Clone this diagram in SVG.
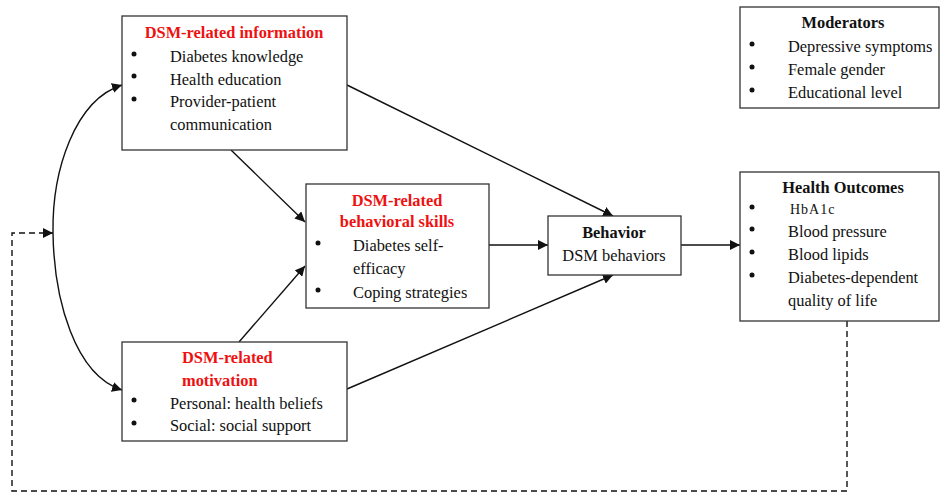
<svg xmlns="http://www.w3.org/2000/svg" width="940" height="498" viewBox="0 0 940 498">
<style>
.box{fill:#fff;stroke:#333;stroke-width:1.3}
.t{font-family:"Liberation Serif","Times New Roman",serif;font-size:16.4px;fill:#111}
.b{font-weight:bold}
.r{fill:#ee1111;font-weight:bold}
.c{text-anchor:middle}
.ln{fill:none;stroke:#111;stroke-width:1.4}
.ds{fill:none;stroke:#111;stroke-width:1.4;stroke-dasharray:6,4}
</style>
<defs>
<marker id="ah" viewBox="0 0 10 10" refX="10" refY="5" markerWidth="10" markerHeight="10" markerUnits="userSpaceOnUse" orient="auto">
<path d="M0,0 L10,5 L0,10 z" fill="#111"/>
</marker>
</defs>
<g id="connectors">
<path class="ln" d="M347,85 L613,216" marker-end="url(#ah)"/>
<path class="ln" d="M231,150 L305,222" marker-end="url(#ah)"/>
<path class="ln" d="M239,342 L305,266" marker-end="url(#ah)"/>
<path class="ln" d="M489,245 L548,245" marker-end="url(#ah)"/>
<path class="ln" d="M347,389 L613,275" marker-end="url(#ah)"/>
<path class="ln" d="M681,245 L740,245" marker-end="url(#ah)"/>
<path class="ln" d="M53,233 C52,170 75,100 122,85" marker-end="url(#ah)"/>
<path class="ln" d="M53,233 C54,300 75,375 122,390" marker-end="url(#ah)"/>
<path class="ds" d="M847,321 L847,491 L12,491 L12,233 L53,233" marker-end="url(#ah)"/>
</g>
<g id="info">
<rect class="box" x="122" y="16" width="225" height="134"/>
<text class="t r c" x="234" y="38">DSM-related information</text>
<circle cx="134" cy="54" r="2.5" fill="#111"/>
<circle cx="134" cy="76" r="2.5" fill="#111"/>
<circle cx="134" cy="99" r="2.5" fill="#111"/>
<text class="t" x="170" y="62">Diabetes knowledge</text>
<text class="t" x="170" y="85">Health education</text>
<text class="t" x="170" y="107">Provider-patient</text>
<text class="t" x="170" y="130">communication</text>
</g>
<g id="skills">
<rect class="box" x="306" y="184" width="183" height="124"/>
<text class="t r c" x="397" y="206">DSM-related</text>
<text class="t r c" x="397" y="227">behavioral skills</text>
<circle cx="318" cy="243" r="2.5" fill="#111"/>
<circle cx="318" cy="290" r="2.5" fill="#111"/>
<text class="t" x="353" y="251">Diabetes self-</text>
<text class="t" x="353" y="274">efficacy</text>
<text class="t" x="353" y="298">Coping strategies</text>
</g>
<g id="behavior">
<rect class="box" x="548" y="216" width="133" height="59"/>
<text class="t b c" x="614" y="238">Behavior</text>
<text class="t c" x="614" y="261">DSM behaviors</text>
</g>
<g id="motivation">
<rect class="box" x="122" y="342" width="225" height="99"/>
<text class="t r" x="182" y="363">DSM-related</text>
<text class="t r" x="182" y="386">motivation</text>
<circle cx="134" cy="400" r="2.5" fill="#111"/>
<circle cx="134" cy="423" r="2.5" fill="#111"/>
<text class="t" x="170" y="409">Personal: health beliefs</text>
<text class="t" x="170" y="431">Social: social support</text>
</g>
<g id="moderators">
<rect class="box" x="740" y="7" width="199" height="101"/>
<text class="t b c" x="843" y="28">Moderators</text>
<circle cx="752" cy="44" r="2.5" fill="#111"/>
<circle cx="752" cy="67" r="2.5" fill="#111"/>
<circle cx="752" cy="90" r="2.5" fill="#111"/>
<text class="t" x="788" y="52">Depressive symptoms</text>
<text class="t" x="788" y="75">Female gender</text>
<text class="t" x="788" y="98">Educational level</text>
</g>
<g id="outcomes">
<rect class="box" x="740" y="172" width="199" height="149"/>
<text class="t b c" x="843" y="193">Health Outcomes</text>
<circle cx="752" cy="207" r="2.5" fill="#111"/>
<circle cx="752" cy="229" r="2.5" fill="#111"/>
<circle cx="752" cy="252" r="2.5" fill="#111"/>
<circle cx="752" cy="275" r="2.5" fill="#111"/>
<text class="t" x="790" y="214" style="font-size:14px;letter-spacing:1px">HbA1c</text>
<text class="t" x="788" y="237">Blood pressure</text>
<text class="t" x="788" y="260">Blood lipids</text>
<text class="t" x="788" y="283">Diabetes-dependent</text>
<text class="t" x="788" y="306">quality of life</text>
</g>
</svg>
